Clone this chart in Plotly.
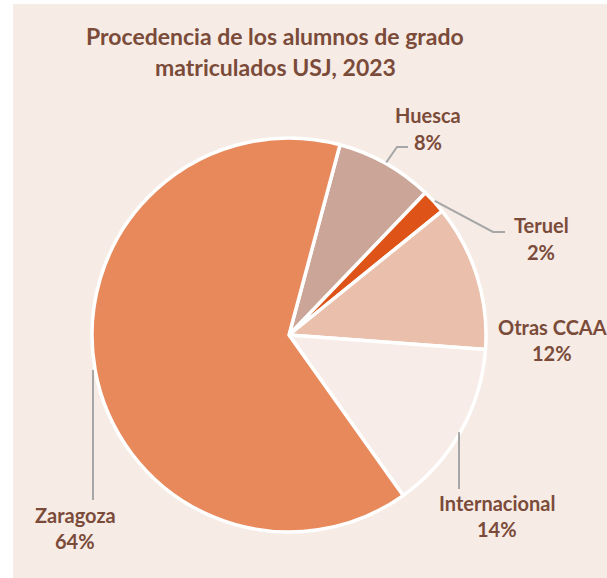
import math
import plotly.graph_objects as go

W, H = 607, 578

categories = ["Huesca", "Teruel", "Otras CCAA", "Internacional", "Zaragoza"]
values = [8, 2, 12, 14, 64]
colors = ["#CBA597", "#DE5418", "#EABFAB", "#F7ECE7", "#E8895C"]

title_lines = ["Procedencia de los alumnos de grado", "matriculados USJ, 2023"]

BG = "#F6EBE5"
TXT = "#7B4B3A"
FONT = "Lato"
ROT = 15

# pie geometry (pixels)
CX, CY, R = 289, 335, 197


def px(x):
    return x / W


def py(y):
    return 1 - y / H


fig = go.Figure(go.Pie(
    labels=categories,
    values=values,
    sort=False,
    direction="clockwise",
    rotation=ROT,
    marker=dict(colors=colors, line=dict(color="white", width=3.5)),
    textinfo="none",
    hoverinfo="label+percent",
    showlegend=False,
    domain=dict(x=[px(CX - R), px(CX + R)], y=[py(CY + R), py(CY - R)]),
))

shapes = [
    dict(type="rect", xref="paper", yref="paper", x0=px(13), x1=1.01,
         y0=-0.01, y1=py(4), fillcolor=BG, line=dict(width=0), layer="below"),
]

# label positions (name centre, pct centre) and leader elbow points
label_pos = {
    "Huesca": (428, 115, 142, [(397, 147), (408, 147)]),
    "Teruel": (541, 225, 252, [(493, 232), (505, 232)]),
    "Otras CCAA": (552, 327, 353, None),
    "Internacional": (497, 503, 529, [(459, 489)]),
    "Zaragoza": (75, 515, 541, [(93, 500)]),
}

total = sum(values)
annotations = []
cum = 0
for cat, v in zip(categories, values):
    mid = ROT + (cum + v / 2) / total * 360
    cum += v
    lx, ny, pcy, elbow = label_pos[cat]
    pct = round(v / total * 100)
    annotations.append(dict(text=f"<b>{cat}</b>", x=px(lx), y=py(ny), xref="paper", yref="paper",
                            showarrow=False, xanchor="center", yanchor="middle",
                            font=dict(family=FONT, size=20, color=TXT)))
    annotations.append(dict(text=f"<b>{pct}%</b>", x=px(lx), y=py(pcy), xref="paper", yref="paper",
                            showarrow=False, xanchor="center", yanchor="middle",
                            font=dict(family=FONT, size=20, color=TXT)))
    if elbow:
        a = math.radians(mid)
        sx = CX + (R + 1) * math.sin(a)
        sy = CY - (R + 1) * math.cos(a)
        pts = [(sx, sy)] + elbow
        if cat in ("Internacional", "Zaragoza"):
            pts = [(elbow[0][0], sy)] + elbow
        path = "M " + " L ".join(f"{px(x):.5f},{py(y):.5f}" for x, y in pts)
        shapes.append(dict(type="path", xref="paper", yref="paper", path=path,
                           line=dict(color="#A6A6A6", width=2)))

for i, (line, y) in enumerate(zip(title_lines, [36, 67])):
    annotations.append(dict(text=f"<b>{line}</b>", x=px(275), y=py(y), xref="paper", yref="paper",
                            showarrow=False, xanchor="center", yanchor="middle",
                            font=dict(family=FONT, size=23, color=TXT)))

fig.update_layout(
    width=W, height=H,
    margin=dict(l=0, r=0, t=0, b=0),
    paper_bgcolor="white",
    plot_bgcolor="white",
    shapes=shapes,
    annotations=annotations,
)

fig.write_html("out.html", config={"displayModeBar": False},
               post_script="document.body.style.margin='0';")
